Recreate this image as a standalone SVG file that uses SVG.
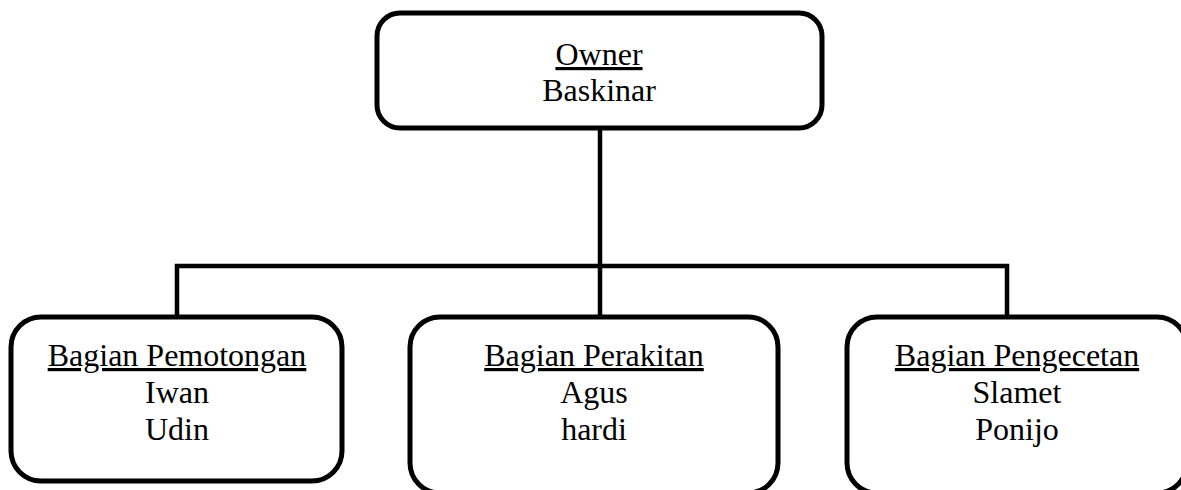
<svg xmlns="http://www.w3.org/2000/svg" width="1181" height="490" viewBox="0 0 1181 490">
<style>
.box{fill:#fff;stroke:#000;stroke-width:5}
.conn{fill:none;stroke:#000;stroke-width:4.5}
text{font-family:"Liberation Serif","Times New Roman",serif;font-size:32px;fill:#000;text-anchor:middle}
.u{text-decoration:underline}
</style>
<rect width="1181" height="490" fill="#fff"/>
<g id="connectors">
<path class="conn" d="M600 128 V317 M177 317 V266 H1007 V317"/>
</g>
<g id="owner">
<rect class="box" x="377" y="13" width="445" height="115" rx="23"/>
<text x="599" y="65" class="u">Owner</text>
<text x="599" y="101">Baskinar</text>
</g>
<g id="pemotongan">
<rect class="box" x="11" y="317" width="331" height="164" rx="30"/>
<text x="177" y="366" class="u">Bagian Pemotongan</text>
<text x="177" y="403">Iwan</text>
<text x="177" y="440">Udin</text>
</g>
<g id="perakitan">
<rect class="box" x="410" y="317" width="368" height="176" rx="30"/>
<text x="594" y="366" class="u">Bagian Perakitan</text>
<text x="594" y="403">Agus</text>
<text x="594" y="440">hardi</text>
</g>
<g id="pengecetan">
<rect class="box" x="847" y="317" width="340" height="176" rx="30"/>
<text x="1017" y="366" class="u">Bagian Pengecetan</text>
<text x="1017" y="403">Slamet</text>
<text x="1017" y="440">Ponijo</text>
</g>
</svg>
